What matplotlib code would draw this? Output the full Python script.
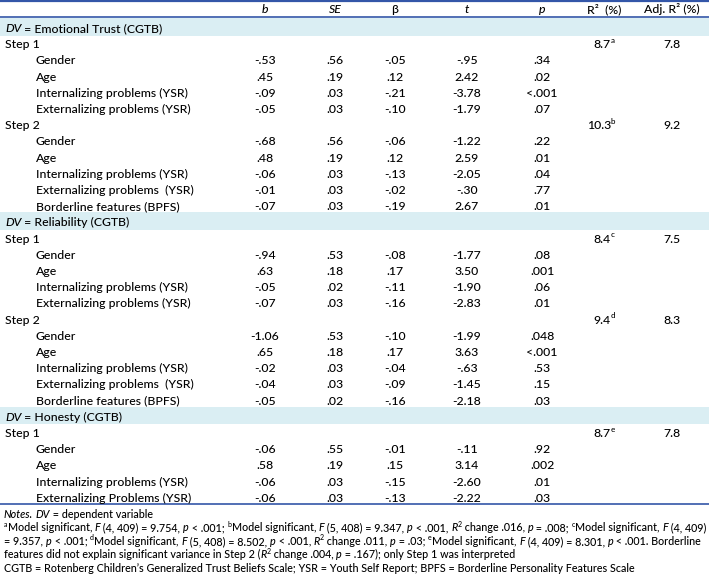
import matplotlib
matplotlib.use("Agg")
import matplotlib.pyplot as plt
from matplotlib.font_manager import FontProperties

FAMILY = ['Lato', 'DejaVu Sans']
plt.rcParams['font.family'] = FAMILY

# --- table content ---
dv_names = ['Emotional Trust (CGTB)', 'Reliability (CGTB)', 'Honesty (CGTB)']
step_dv = [0, 0, 1, 1, 2]
step_num = [1, 2, 1, 2, 1]
r2 = ['8.7', '10.3', '8.4', '9.4', '8.7']
r2_sup = ['a', 'b', 'c', 'd', 'e']
adj_r2 = ['7.8', '9.2', '7.5', '8.3', '7.8']

pred_step = [0, 0, 0, 0, 1, 1, 1, 1, 1, 2, 2, 2, 2, 3, 3, 3, 3, 3, 4, 4, 4, 4]
predictors = [
    'Gender', 'Age', 'Internalizing problems (YSR)', 'Externalizing problems (YSR)',
    'Gender', 'Age', 'Internalizing problems (YSR)', 'Externalizing problems  (YSR)',
    'Borderline features (BPFS)',
    'Gender', 'Age', 'Internalizing problems (YSR)', 'Externalizing problems (YSR)',
    'Gender', 'Age', 'Internalizing problems (YSR)', 'Externalizing problems  (YSR)',
    'Borderline features (BPFS)',
    'Gender', 'Age', 'Internalizing problems (YSR)', 'Externalizing Problems (YSR)',
]
b = ['-.53', '.45', '-.09', '-.05', '-.68', '.48', '-.06', '-.01', '-.07',
     '-.94', '.63', '-.05', '-.07', '-1.06', '.65', '-.02', '-.04', '-.05',
     '-.06', '.58', '-.06', '-.06']
se = ['.56', '.19', '.03', '.03', '.56', '.19', '.03', '.03', '.03',
      '.53', '.18', '.02', '.03', '.53', '.18', '.03', '.03', '.02',
      '.55', '.19', '.03', '.03']
beta = ['-.05', '.12', '-.21', '-.10', '-.06', '.12', '-.13', '-.02', '-.19',
        '-.08', '.17', '-.11', '-.16', '-.10', '.17', '-.04', '-.09', '-.16',
        '-.01', '.15', '-.15', '-.13']
t_val = ['-.95', '2.42', '-3.78', '-1.79', '-1.22', '2.59', '-2.05', '-.30', '2.67',
         '-1.77', '3.50', '-1.90', '-2.83', '-1.99', '3.63', '-.63', '-1.45', '-2.18',
         '-.11', '3.14', '-2.60', '-2.22']
p_val = ['.34', '.02', '<.001', '.07', '.22', '.01', '.04', '.77', '.01',
         '.08', '.001', '.06', '.01', '.048', '<.001', '.53', '.15', '.03',
         '.92', '.002', '.01', '.03']

# notes: runs of (text, style)  n=normal, i=italic, s=superscript
notes = [
    [('Notes.', 'i'), (' ', 'n'), ('DV', 'i'), (' = dependent variable', 'n')],
    [('a', 's'), ('Model significant, ', 'n'), ('F', 'i'), (' (4, 409) = 9.754, ', 'n'), ('p', 'i'),
     (' < .001; ', 'n'), ('b', 's'), ('Model significant, ', 'n'), ('F', 'i'),
     (' (5, 408) = 9.347, ', 'n'), ('p', 'i'), (' < .001, ', 'n'), ('R', 'i'), ('2', 's'),
     (' change .016, ', 'n'), ('p', 'i'), (' = .008; ', 'n'), ('c', 's'),
     ('Model significant, ', 'n'), ('F', 'i'), (' (4, 409)', 'n')],
    [('= 9.357, ', 'n'), ('p', 'i'), (' < .001; ', 'n'), ('d', 's'), ('Model significant, ', 'n'),
     ('F', 'i'), (' (5, 408) = 8.502, ', 'n'), ('p', 'i'), (' < .001, ', 'n'), ('R', 'i'),
     ('2', 's'), (' change .011, ', 'n'), ('p', 'i'), (' = .03; ', 'n'), ('e', 's'),
     ('Model significant, ', 'n'), ('F', 'i'), (' (4, 409) = 8.301, ', 'n'), ('p', 'i'),
     (' < .001. Borderline', 'n')],
    [('features did not explain significant variance in Step 2 (', 'n'), ('R', 'i'), ('2', 's'),
     (' change .004, ', 'n'), ('p', 'i'), (' = .167); only Step 1 was interpreted', 'n')],
    [('CGTB = Rotenberg Children\u2019s Generalized Trust Beliefs Scale; YSR = Youth Self Report; '
      'BPFS = Borderline Personality Features Scale', 'n')],
]

LINE = '#3356a8'
SHADE = '#daeef3'
INK = '#000000'
WEIGHT = 500

W, H = 709, 578
fig = plt.figure(figsize=(W / 100, H / 100), dpi=100)
ax = fig.add_axes([0, 0, 1, 1])
ax.set_xlim(0, W)
ax.set_ylim(H, 0)
ax.axis('off')
rend = fig.canvas.get_renderer()


def text_w(s, size, style='normal'):
    fp = FontProperties(family=FAMILY, size=size, style=style, weight=WEIGHT)
    w, _, _ = rend.get_text_width_height_descent(s + '|', fp, ismath=False)
    w0, _, _ = rend.get_text_width_height_descent('|', fp, ismath=False)
    return w - w0


def put(x, y, s, size, **kw):
    return ax.text(x, y, s, fontsize=size, va='baseline', color=INK, fontweight=WEIGHT, **kw)


def runs_width(runs, size):
    total = 0
    for s, st in runs:
        if st == 's':
            total += text_w(s, size * 0.65)
        else:
            total += text_w(s, size, 'italic' if st == 'i' else 'normal')
    return total


def draw_runs(x, y, runs, size):
    for s, st in runs:
        if st == 's':
            put(x, y - size * 0.42 * 100 / 72, s, size * 0.65)
            x += text_w(s, size * 0.65)
        else:
            style = 'italic' if st == 'i' else 'normal'
            put(x, y, s, size, style=style)
            x += text_w(s, size, style)


# font sizes fitted to the reference text widths
fs = 10 * 152 / text_w('Internalizing problems (YSR)', 10)
nfs = 10 * 701 / runs_width(notes[1], 10)

col_x = [265, 335, 395, 467, 542]
r2_x, adj_x = 611, 672
row0, dy = 27.5, 16.2
base = fs * 100 / 72 * 0.36  # baseline offset from row centre

# header
ax.axhline(1, color=LINE, lw=1.6)
ax.axhline(17, color=LINE, lw=1.2)
hy = 9 + base
for x, lab in zip(col_x, ['b', 'SE', '\u03b2', 't', 'p']):
    put(x, hy, lab, fs, ha='center', style='normal' if lab == '\u03b2' else 'italic')
put(604, hy, 'R\u00b2  (%)', fs, ha='center')
put(672, hy, 'Adj. R\u00b2 (%)', fs, ha='center')

row = 0
last_dv = None
for k in range(len(step_num)):
    if step_dv[k] != last_dv:
        y = row0 + row * dy
        ax.axhspan(y - 9.5, y + 8, color=SHADE, lw=0, zorder=0)
        draw_runs(5, y + base, [('DV', 'i'), (' = ' + dv_names[step_dv[k]], 'n')], fs)
        last_dv = step_dv[k]
        row += 1
    y = row0 + row * dy
    put(5, y + base, f'Step {step_num[k]}', fs)
    put(r2_x, y + base, r2[k], fs, ha='right')
    put(r2_x - 0.5, y + base - fs * 0.42 * 100 / 72, r2_sup[k], fs * 0.65)
    put(adj_x, y + base, adj_r2[k], fs, ha='center')
    row += 1
    for i in range(len(predictors)):
        if pred_step[i] != k:
            continue
        y = row0 + row * dy
        put(36, y + base, predictors[i], fs)
        for x, v in zip(col_x, [b[i], se[i], beta[i], t_val[i], p_val[i]]):
            put(x, y + base, v, fs, ha='center')
        row += 1

bottom = row0 + (row - 1) * dy + 7
ax.axhline(bottom, color=LINE, lw=1.2)

ny = bottom + 9.5 + nfs * 100 / 72 * 0.36
for ln in notes:
    draw_runs(4, ny, ln, nfs)
    ny += 13.6

fig.savefig('out.png', dpi=100)
